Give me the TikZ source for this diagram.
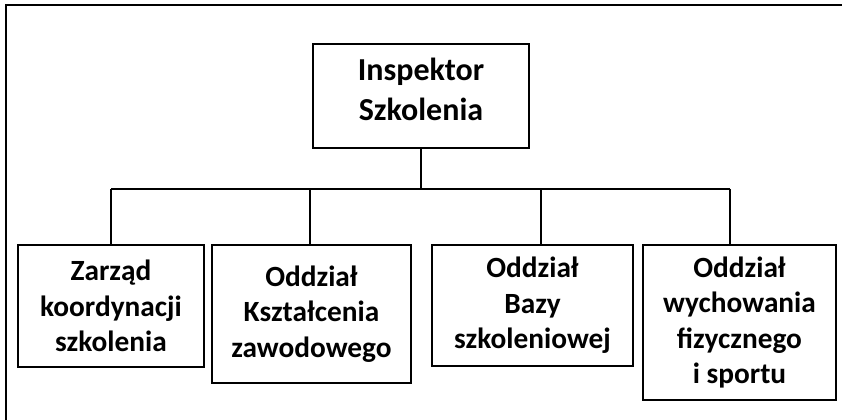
\documentclass[tikz,border=0pt]{standalone}
\usepackage{fontspec}
\setmainfont{Carlito}

\begin{document}
\begin{tikzpicture}[x=0.75pt,y=-0.75pt,
    box/.style={draw,line width=1.5pt,align=center,inner sep=0pt,
        font=\bfseries\fontsize{22}{26.5}\selectfont},
    link/.style={line width=1.5pt}]
\useasboundingbox (0,0) rectangle (842,420);

                % Frame (only top and left edges are visible)
                \draw[line width=1.5pt] (6,420) -- (6,5) -- (842,5);

                % Head of the chart
                \node[box,minimum width=162pt,minimum height=78pt,text depth=10pt,
                    font=\bfseries\fontsize{24}{30}\selectfont] (insp) at (421,96) {Inspektor\\Szkolenia};

                % Departments
                \node[box,minimum width=139.5pt,minimum height=91.5pt] (zarzad) at (111,306) {Zarząd\\koordynacji\\szkolenia};
                \node[box,minimum width=149.25pt,minimum height=103.5pt] (ksztal) at (311.5,314) {Oddział\\Kształcenia\\zawodowego};
                \node[box,minimum width=150.75pt,minimum height=90.75pt] (baza) at (532.5,305.5) {Oddział\\Bazy\\szkoleniowej};
                \node[box,minimum width=144.75pt,minimum height=116.25pt] (sport) at (739.5,322.5) {Oddział\\wychowania\\fizycznego\\i sportu};

                % Bus line and drops
                \coordinate (bus) at (421,189);
                \draw[link] (insp.south) -- (bus);
                \foreach \x/\n in {111/zarzad,310/ksztal,541/baza,730/sport} {
                    \coordinate (d\n) at (\x,189);
                    \draw[link] (d\n) -- (d\n |- \n.north);
                }
                \draw[link] (dzarzad) -- (dsport);

\end{tikzpicture}
\end{document}
